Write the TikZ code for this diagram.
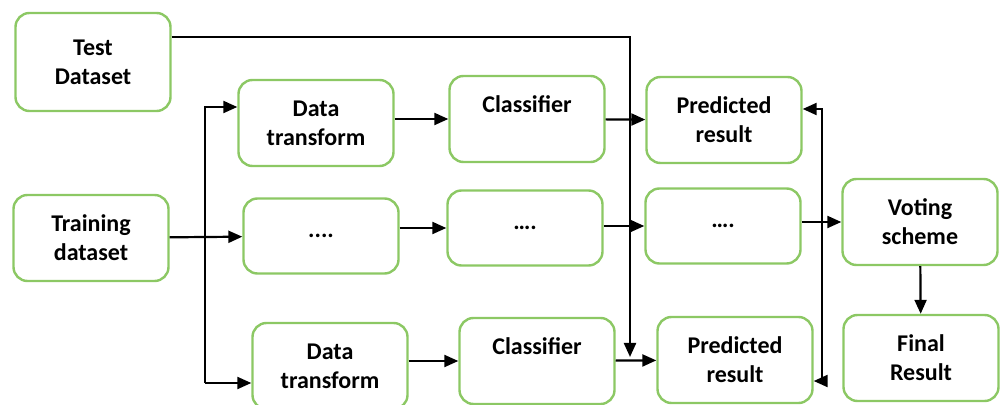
\documentclass[tikz,border=0pt]{standalone}
\usepackage{fontspec}
\setmainfont{Carlito}
\usepackage{tikz}
\usetikzlibrary{positioning,calc,arrows.meta}
\usepackage{xcolor}
\definecolor{boxgreen}{RGB}{140,200,100}

\begin{document}
\begin{tikzpicture}[
    x=0.5pt, y=-0.5pt, % one unit = one pixel of the original
    box/.style={draw=boxgreen, line width=1.2pt, rounded corners=7pt, fill=white, align=center,
        font=\bfseries\fontsize{12}{14.5}\selectfont, minimum width=77.5pt, minimum height=43pt, inner sep=2pt}, % General box
    tall/.style={minimum height=49pt}, % Test dataset
    flat/.style={minimum height=37.5pt}, % dotted middle row
    arr/.style={-{Triangle[length=7pt,width=6pt]}, line width=1.1pt, black} % connectors
]
\clip (0,0) rectangle (1000,405);

% inputs
\node[box, tall] (test) at (93,62) {Test\\Dataset};
\node[box] (train) at (91,238) {Training\\dataset};

% first row
\node[box] (dt1) at (316,123) {Data\\transform};
\node[box] (cls1) at (527,119) {Classifier\\\mbox{}};
\node[box] (pr1) at (724,120) {Predicted\\result};

% middle row
\node[box, flat] (mid1) at (321,236) {....};
\node[box, flat] (mid2) at (525,228) {\ldots.};
\node[box, flat] (mid3) at (723,226) {\ldots.};
\node[box] (vote) at (920,222) {Voting\\scheme};

% last row
\node[box] (dt2) at (330,366) {Data\\transform};
\node[box] (cls2) at (537,361) {Classifier\\\mbox{}};
\node[box] (pr2) at (735,360) {Predicted\\result};
\node[box] (final) at (921,358) {Final\\Result};

% turning points
\coordinate (tj) at (630,37);
\coordinate (tend) at (630,357);
\coordinate (st) at (205,107);
\coordinate (sb) at (205,383);
\coordinate (rt) at (822,109);
\coordinate (rb) at (822,381);

% test data goes down to the last prediction
\draw[arr] (test.east |- tj) -- (tj) -- (tend);

% training data is split over the rows
\draw[arr] (train) -- (mid1);
\draw[arr] (sb) -- (st) -- (dt1.west |- st);
\draw[arr] (sb) -- (dt2.west |- sb);

% along the rows
\draw[arr] (dt1.east |- cls1) -- (cls1.west);
\draw[arr] (cls1) -- (pr1);
\draw[arr] (mid1.east |- mid2) -- (mid2.west);
\draw[arr] (mid2.east |- mid3) -- (mid3.west);
\draw[arr] (dt2.east |- cls2) -- (cls2.west);
\draw[arr] (cls2) -- (pr2);

% back into the predictions
\draw[arr] (rb) -- (rt) -- (pr1.east |- rt);
\draw[arr] (rb) -- (pr2.east |- rb);

% voting
\draw[arr] (mid3.east |- vote) -- (vote.west);
\draw[arr] (vote) -- (final);
\end{tikzpicture}
\end{document}
